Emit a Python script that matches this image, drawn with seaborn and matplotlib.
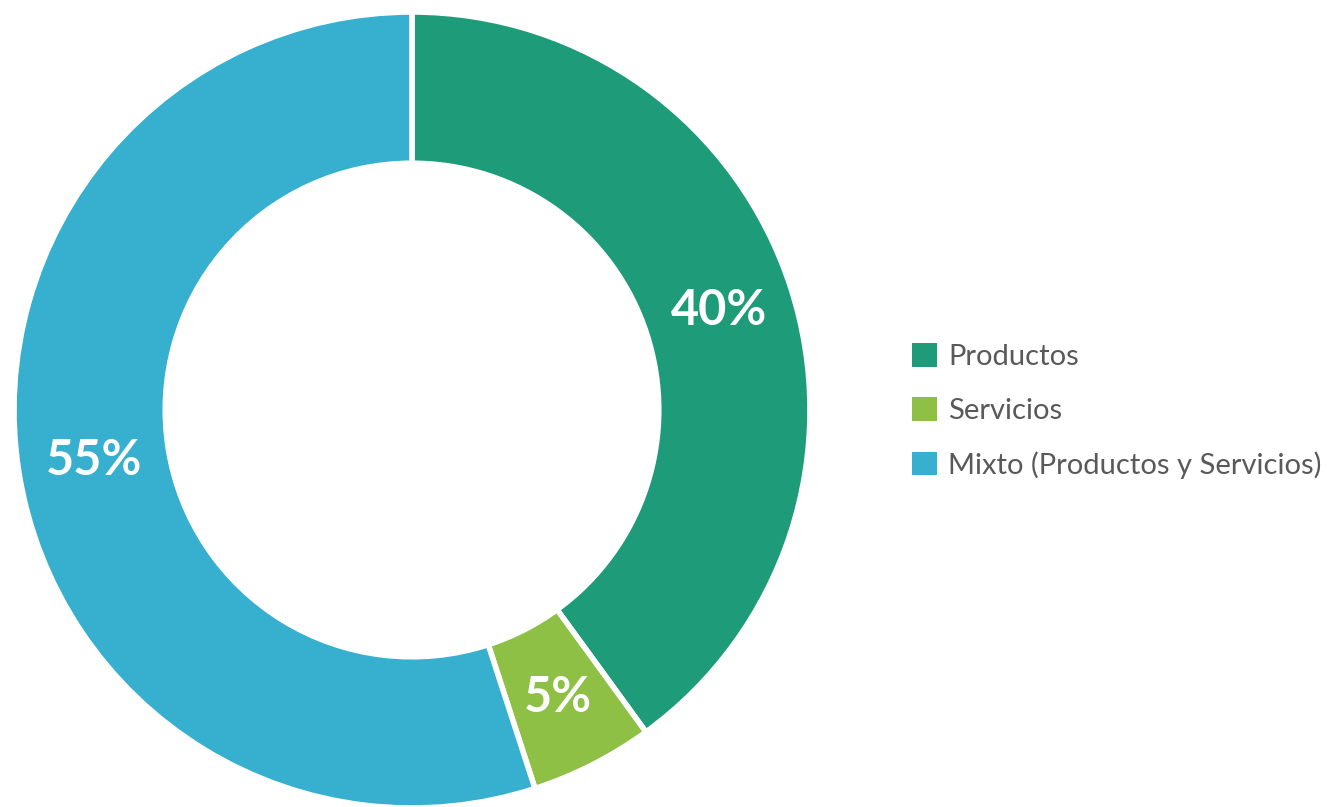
import matplotlib
matplotlib.use("Agg")
import matplotlib.pyplot as plt
import matplotlib.patches as mpatches
import seaborn as sns

categories = ["Productos", "Servicios", "Mixto (Productos y Servicios)"]
values = [40, 5, 55]
colors = ["#1e9b78", "#8dc045", "#37afcf"]

sns.set_theme(style="white")
plt.rcParams['font.family'] = ['Lato', 'DejaVu Sans']

W, H = 1329, 807
fig = plt.figure(figsize=(W / 100, H / 100), dpi=100)
cx, cy, R = 412, 410, 398
ax = fig.add_axes([(cx - R) / W, (H - cy - R) / H, 2 * R / W, 2 * R / H])

palette = sns.color_palette(colors)
wedges, texts, autotexts = ax.pie(
    values, colors=palette, startangle=90, counterclock=False,
    radius=1.0, autopct=lambda p: f"{p:.0f}%", pctdistance=0.81,
    wedgeprops=dict(width=0.38, edgecolor="white", linewidth=4),
    textprops=dict(color="white", fontsize=35, fontweight="bold"))
ax.set_xlim(-1, 1)
ax.set_ylim(-1, 1)
ax.set_aspect("equal")
ax.axis("off")

handles = [mpatches.Patch(facecolor=c, edgecolor="none") for c in palette]
fig.legend(handles, categories, loc="center left",
           bbox_to_anchor=(912 / W, (H - 411) / H), frameon=False,
           fontsize=21, handlelength=0.86, handleheight=0.86,
           handletextpad=0.38, labelspacing=0.93, borderpad=0,
           borderaxespad=0, labelcolor="#595959")

fig.savefig("out.png", dpi=100)
